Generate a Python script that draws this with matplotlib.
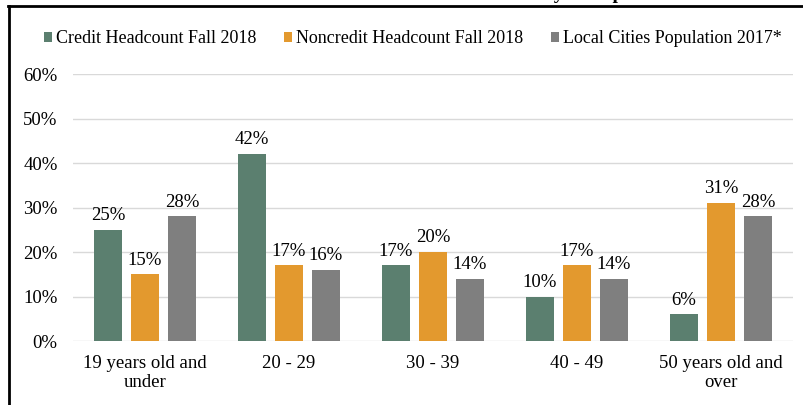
import numpy as np
import matplotlib
matplotlib.use("Agg")
import matplotlib.pyplot as plt
from matplotlib.lines import Line2D

plt.rcParams["font.family"] = ["Liberation Serif", "DejaVu Serif"]

# Data
categories = ["19 years old and\nunder", "20 - 29", "30 - 39", "40 - 49", "50 years old and\nover"]
series_names = ["Credit Headcount Fall 2018", "Noncredit Headcount Fall 2018", "Local Cities Population 2017*"]
credit = [25, 42, 17, 10, 6]
noncredit = [15, 17, 20, 17, 31]
population = [28, 16, 14, 14, 28]
y_ticks = [0, 10, 20, 30, 40, 50, 60]

colors = ["#5B7F6F", "#E3992E", "#7F7F7F"]

fig = plt.figure(figsize=(8.04, 4.05), dpi=100)
ax = fig.add_axes([0.0908, 0.158, 0.8955, 0.659])

x = np.arange(len(categories))
width = 0.2
step = 0.257

for i, (vals, name) in enumerate(zip([credit, noncredit, population], series_names)):
    pos = x + (i - 1) * step
    bars = ax.bar(pos, vals, width, color=colors[i], label=name, zorder=3)
    for b, v in zip(bars, vals):
        ax.text(b.get_x() + b.get_width() / 2, v + 1.3, f"{v}%",
                ha="center", va="bottom", fontsize=13.5, color="#000000")

ax.set_xlim(-0.5, len(categories) - 0.5)
ax.set_ylim(0, 60)
ax.set_yticks(y_ticks)
ax.set_yticklabels([f"{t}%" for t in y_ticks], fontsize=13.5)
ax.set_xticks(x)
ax.set_xticklabels(categories, fontsize=13.5, linespacing=1.2)
ax.tick_params(axis="y", length=0, pad=11)
ax.tick_params(axis="x", length=0, pad=10)
ax.grid(axis="y", color="#D9D9D9", linewidth=1, zorder=0)
for s in ax.spines.values():
    s.set_visible(False)

fig.legend(loc="upper left", bbox_to_anchor=(0.035, 0.965), ncol=3, frameon=False,
           fontsize=13, handlelength=0.4, handleheight=0.4, handletextpad=0.25,
           columnspacing=1.55)

# cut-off title at the very top, only descenders show
fig.text(0.775, 1.0 + 0.5 / 405, "Student Headcount Distribution by Group",
         ha="right", va="baseline", fontsize=14, fontweight="bold")

# frame lines
fig.add_artist(Line2D([8 / 804, 1.0], [1 - 5.5 / 405, 1 - 5.5 / 405],
                      transform=fig.transFigure, color="black", linewidth=2))
fig.add_artist(Line2D([8.5 / 804, 8.5 / 804], [0, 1 - 5.5 / 405],
                      transform=fig.transFigure, color="black", linewidth=2))

fig.savefig("out.png", dpi=100)
